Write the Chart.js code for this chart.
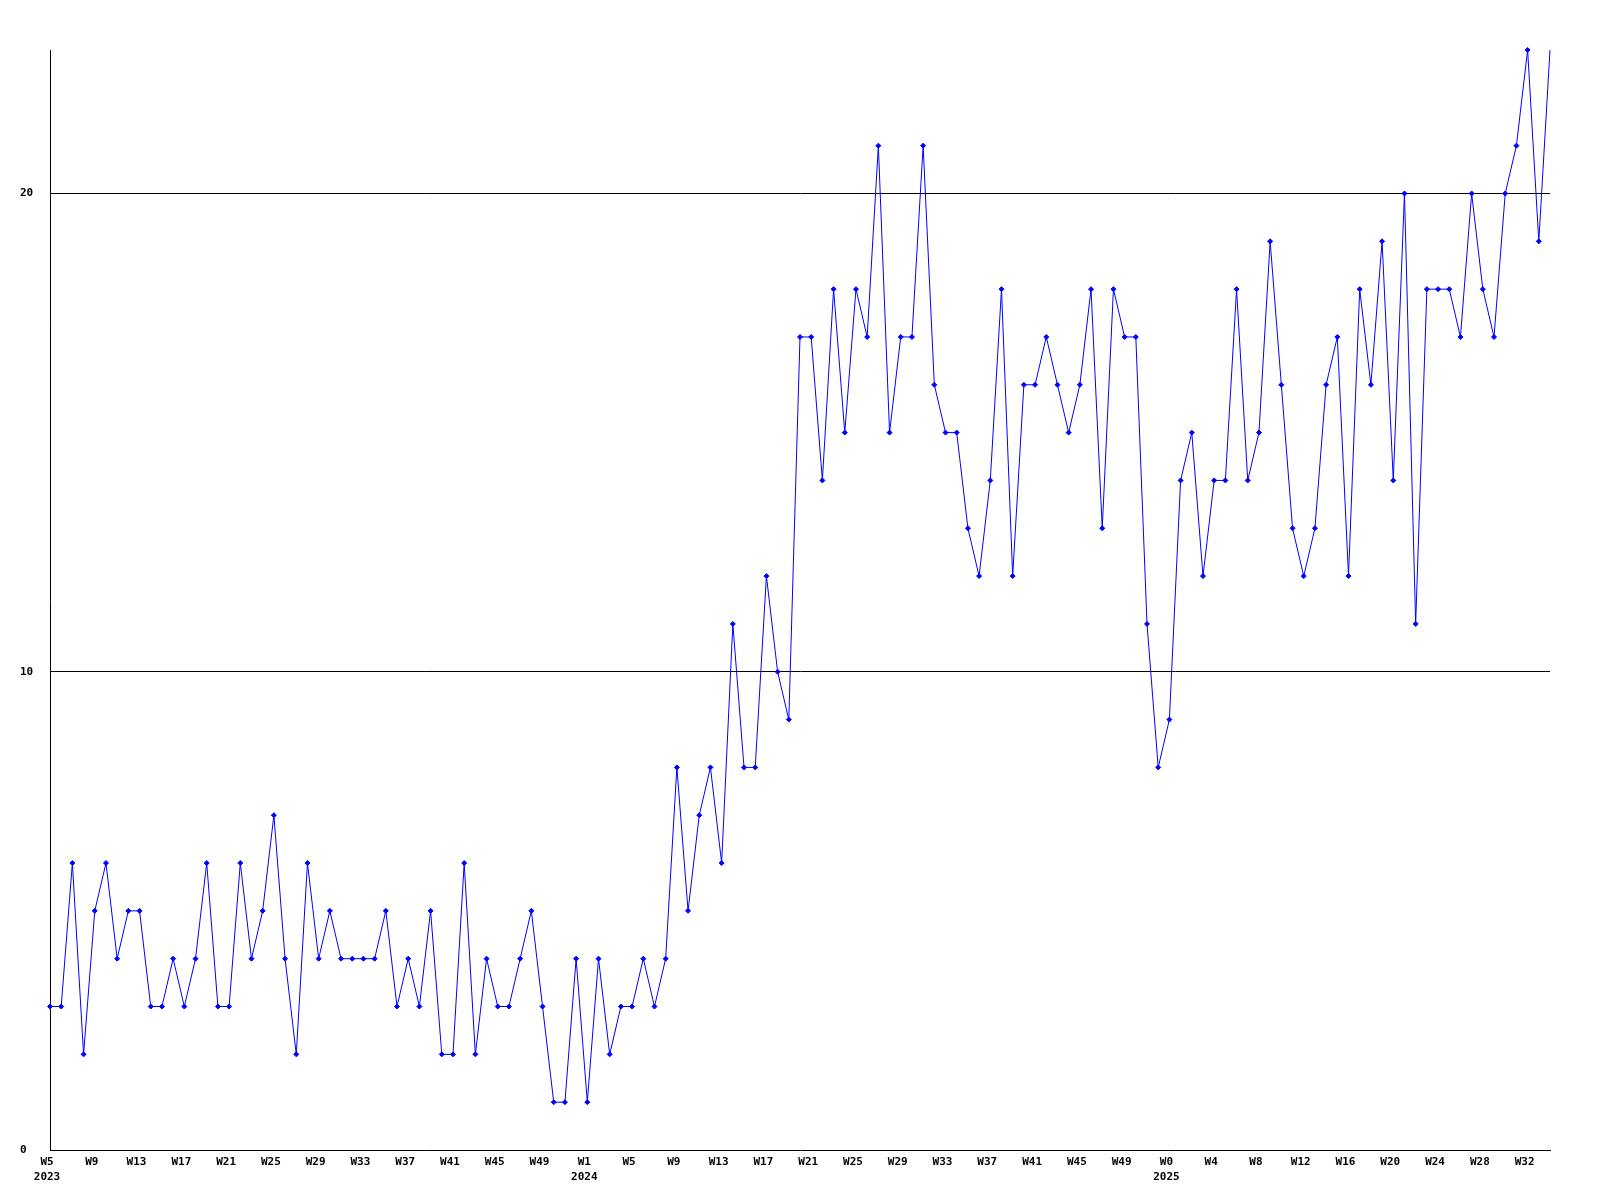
<!DOCTYPE html>
<html>
<head>
<meta charset="utf-8">
<script src="https://cdn.jsdelivr.net/npm/chart.js@4/dist/chart.umd.min.js"></script>
<style>
    body { margin: 0; background: #fff; }
    canvas { display: block; }
</style>
</head>
<body>
<canvas id="grafico" width="1600" height="1200"></canvas>
<script>
// ============================
// DATA
// ============================
let years = ["2023", "2024", "2025"];

let weeks2023 = ["W5","W6","W7","W8","W9","W10","W11","W12","W13","W14","W15","W16","W17","W18","W19","W20",
    "W21","W22","W23","W24","W25","W26","W27","W28","W29","W30","W31","W32","W33","W34","W35","W36",
    "W37","W38","W39","W40","W41","W42","W43","W44","W45","W46","W47","W48","W49","W50","W51","W52"];
let weeks2024 = ["W1","W2","W3","W4","W5","W6","W7","W8","W9","W10","W11","W12","W13","W14","W15","W16",
    "W17","W18","W19","W20","W21","W22","W23","W24","W25","W26","W27","W28","W29","W30","W31","W32",
    "W33","W34","W35","W36","W37","W38","W39","W40","W41","W42","W43","W44","W45","W46","W47","W48",
    "W49","W50","W51","W52"];
let weeks2025 = ["W0","W1","W2","W3","W4","W5","W6","W7","W8","W9","W10","W11","W12","W13","W14","W15","W16",
    "W17","W18","W19","W20","W21","W22","W23","W24","W25","W26","W27","W28","W29","W30","W31","W32",
    "W33","W34"];

let values2023 = [3,3,6,2,5,6,4,5,5,3,3,4,3,4,6,3,3,6,4,5,7,4,2,6,
    4,5,4,4,4,4,5,3,4,3,5,2,2,6,2,4,3,3,4,5,3,1,1,4];
let values2024 = [1,4,2,3,3,4,3,4,8,5,7,8,6,11,8,8,12,10,9,17,17,14,18,15,
    18,17,21,15,17,17,21,16,15,15,13,12,14,18,12,16,16,17,16,15,16,18,13,18,
    17,17,11,8];
let values2025 = [9,14,15,12,14,14,18,14,15,19,16,13,12,13,16,17,12,18,16,19,
    14,20,11,18,18,18,17,20,18,17,20,21,23,19,23];

let yTicks = [0, 10, 20];
let yMax = 23;

// ============================
// MONTAR LABELS
// ============================
let labels = weeks2023.concat(weeks2024, weeks2025);
let valores = values2023.concat(values2024, values2025);
let inicioAno = {};
inicioAno[0] = years[0];
inicioAno[weeks2023.length] = years[1];
inicioAno[weeks2023.length + weeks2024.length] = years[2];

let fonte = { family: "'DejaVu Sans Mono', monospace", size: 11, weight: "bold", lineHeight: 1.35 };

// ============================
// GRÁFICO
// ============================
new Chart(document.getElementById("grafico"), {
    type: "line",
    data: {
        labels: labels,
        datasets: [{
            data: valores,
            borderColor: "#0000ff",
            backgroundColor: "#0000ff",
            borderWidth: 1,
            tension: 0,
            fill: false,
            clip: false,
            pointStyle: "rectRot",
            pointRadius: ctx => ctx.dataIndex === valores.length - 1 ? 0 : 2.5,
            pointBorderWidth: 1,
            pointBackgroundColor: "#0000ff",
            pointBorderColor: "#0000ff"
        }]
    },
    options: {
        responsive: false,
        animation: false,
        devicePixelRatio: 1,
        layout: { padding: { left: 20, top: 50, right: 50, bottom: 0 } },
        plugins: { legend: { display: false }, tooltip: { enabled: false } },
        scales: {
            x: {
                type: "category",
                offset: false,
                grid: { display: false, drawTicks: false },
                border: { color: "#000", width: 1 },
                afterFit: s => { s.height = 50; },
                ticks: {
                    autoSkip: false,
                    maxRotation: 0,
                    minRotation: 0,
                    padding: 5,
                    labelOffset: -3,
                    color: "#000",
                    font: fonte,
                    callback: function (value, index) {
                        if (index % 4 !== 0) return null;
                        let txt = this.getLabelForValue(value);
                        if (inicioAno[index]) return [txt, inicioAno[index]];
                        return txt;
                    }
                }
            },
            y: {
                min: 0,
                max: yMax,
                grid: {
                    drawTicks: false,
                    color: ctx => ctx.tick && ctx.tick.value === 0 ? "rgba(0,0,0,0)" : "#000",
                    lineWidth: 1
                },
                border: { color: "#000", width: 1 },
                afterFit: s => { s.width = 30; },
                afterBuildTicks: s => { s.ticks = yTicks.map(v => ({ value: v })); },
                ticks: {
                    crossAlign: "far",
                    padding: 0,
                    color: "#000",
                    font: fonte
                }
            }
        }
    }
});
</script>
</body>
</html>
